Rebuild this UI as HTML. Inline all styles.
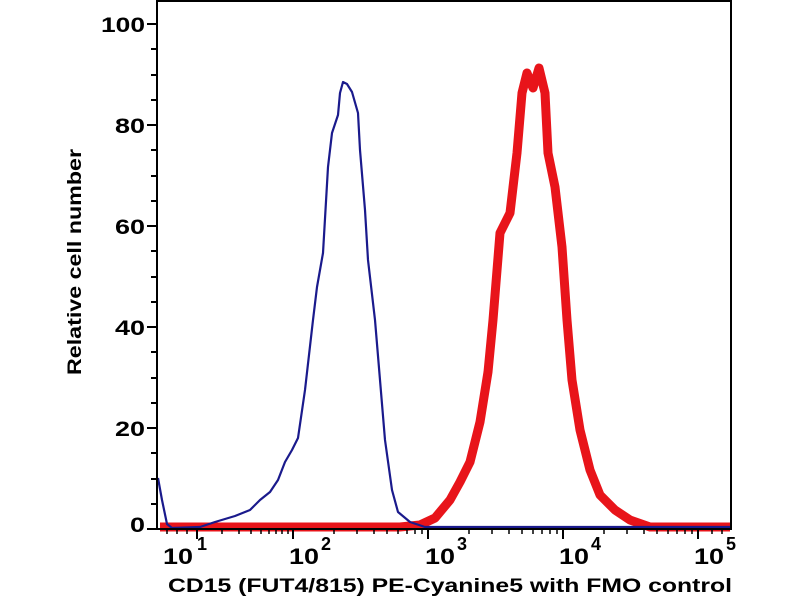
<!DOCTYPE html>
<html><head><style>body{margin:0;background:#fff}svg{display:block}</style></head><body>
<svg width="800" height="600" xmlns="http://www.w3.org/2000/svg" font-family="Liberation Sans, Arial, sans-serif" font-weight="bold">
<rect width="800" height="600" fill="#fff"/>
<polyline fill="none" stroke="#e8141a" stroke-width="9" stroke-linejoin="round" points="160,527 335,527 400,527 420,525 435,518 450,500 460,482 470,462 480,422 488,372 493,320 500,233 510,213 517,153 522,93 527,73 533,88 539,68 545,93 548,153 555,187 562,247 567,320 572,380 580,430 590,470 600,495 615,510 630,520 650,527 730,527"/>
<polyline fill="none" stroke="#1a1a8c" stroke-width="2.2" stroke-linejoin="round" points="158,478 162,500 167,524 172,528 200,527 215,522 235,516 250,510 260,500 270,492 278,480 285,462 292,450 298,438 305,390 313,320 317,287 323,253 328,167 332,133 338,115 340,93 343,82 347,84 352,92 358,113 360,150 365,210 368,260 375,320 380,380 385,440 392,490 398,512 410,522 425,527 730,527"/>
<g stroke="#000" stroke-width="2" fill="none">
<line x1="157" y1="0" x2="157" y2="530"/>
<line x1="156" y1="529" x2="732" y2="529"/>
<line x1="157" y1="1" x2="732" y2="1"/>
<line x1="731" y1="0" x2="731" y2="530"/>
</g>
<g stroke="#000" stroke-width="2">
<line x1="147" y1="24" x2="157" y2="24"/><line x1="147" y1="125" x2="157" y2="125"/><line x1="147" y1="226" x2="157" y2="226"/><line x1="147" y1="327" x2="157" y2="327"/><line x1="147" y1="428" x2="157" y2="428"/><line x1="147" y1="529" x2="157" y2="529"/>
<line x1="151" y1="49" x2="157" y2="49"/><line x1="151" y1="75" x2="157" y2="75"/><line x1="151" y1="100" x2="157" y2="100"/>
<line x1="151" y1="150" x2="157" y2="150"/><line x1="151" y1="176" x2="157" y2="176"/><line x1="151" y1="201" x2="157" y2="201"/>
<line x1="151" y1="251" x2="157" y2="251"/><line x1="151" y1="277" x2="157" y2="277"/><line x1="151" y1="302" x2="157" y2="302"/>
<line x1="151" y1="352" x2="157" y2="352"/><line x1="151" y1="378" x2="157" y2="378"/><line x1="151" y1="403" x2="157" y2="403"/>
<line x1="151" y1="453" x2="157" y2="453"/><line x1="151" y1="479" x2="157" y2="479"/><line x1="151" y1="504" x2="157" y2="504"/>
<line x1="197" y1="529" x2="197" y2="539"/><line x1="293" y1="529" x2="293" y2="539"/><line x1="428" y1="529" x2="428" y2="539"/><line x1="563" y1="529" x2="563" y2="539"/><line x1="698" y1="529" x2="698" y2="539"/>
</g>
<g stroke="#000" stroke-width="1.5">
<line x1="167" y1="529" x2="167" y2="534"/><line x1="177" y1="529" x2="177" y2="534"/><line x1="187" y1="529" x2="187" y2="534"/>
<line x1="222" y1="529" x2="222" y2="534"/><line x1="239" y1="529" x2="239" y2="534"/><line x1="251" y1="529" x2="251" y2="534"/><line x1="261" y1="529" x2="261" y2="534"/><line x1="269" y1="529" x2="269" y2="534"/><line x1="276" y1="529" x2="276" y2="534"/><line x1="282" y1="529" x2="282" y2="534"/><line x1="288" y1="529" x2="288" y2="534"/>
<line x1="334" y1="529" x2="334" y2="534"/><line x1="357" y1="529" x2="357" y2="534"/><line x1="374" y1="529" x2="374" y2="534"/><line x1="387" y1="529" x2="387" y2="534"/><line x1="398" y1="529" x2="398" y2="534"/><line x1="407" y1="529" x2="407" y2="534"/><line x1="415" y1="529" x2="415" y2="534"/><line x1="422" y1="529" x2="422" y2="534"/>
<line x1="469" y1="529" x2="469" y2="534"/><line x1="492" y1="529" x2="492" y2="534"/><line x1="509" y1="529" x2="509" y2="534"/><line x1="522" y1="529" x2="522" y2="534"/><line x1="533" y1="529" x2="533" y2="534"/><line x1="542" y1="529" x2="542" y2="534"/><line x1="550" y1="529" x2="550" y2="534"/><line x1="557" y1="529" x2="557" y2="534"/>
<line x1="604" y1="529" x2="604" y2="534"/><line x1="627" y1="529" x2="627" y2="534"/><line x1="644" y1="529" x2="644" y2="534"/><line x1="657" y1="529" x2="657" y2="534"/><line x1="668" y1="529" x2="668" y2="534"/><line x1="677" y1="529" x2="677" y2="534"/><line x1="685" y1="529" x2="685" y2="534"/><line x1="692" y1="529" x2="692" y2="534"/>
<line x1="712" y1="529" x2="712" y2="534"/><line x1="722" y1="529" x2="722" y2="534"/>
</g>
<g font-size="21" text-anchor="end" fill="#000">
<text x="145" y="32" textLength="44" lengthAdjust="spacingAndGlyphs">100</text><text x="145" y="133" textLength="30" lengthAdjust="spacingAndGlyphs">80</text><text x="145" y="234" textLength="30" lengthAdjust="spacingAndGlyphs">60</text><text x="145" y="335" textLength="30" lengthAdjust="spacingAndGlyphs">40</text><text x="145" y="436" textLength="30" lengthAdjust="spacingAndGlyphs">20</text><text x="145" y="532" textLength="15" lengthAdjust="spacingAndGlyphs">0</text>
</g>
<g font-size="22" fill="#000">
<text x="163" y="564" textLength="30" lengthAdjust="spacingAndGlyphs">10</text><text x="197" y="550" font-size="18">1</text>
<text x="289" y="564" textLength="30" lengthAdjust="spacingAndGlyphs">10</text><text x="321" y="550" font-size="18">2</text>
<text x="425" y="564" textLength="30" lengthAdjust="spacingAndGlyphs">10</text><text x="457" y="550" font-size="18">3</text>
<text x="559" y="564" textLength="30" lengthAdjust="spacingAndGlyphs">10</text><text x="591" y="550" font-size="18">4</text>
<text x="694" y="564" textLength="30" lengthAdjust="spacingAndGlyphs">10</text><text x="726" y="550" font-size="18">5</text>
</g>
<text x="168" y="592" font-size="19" textLength="564" lengthAdjust="spacingAndGlyphs" fill="#000">CD15 (FUT4/815) PE-Cyanine5 with FMO control</text>
<text transform="translate(81,262) rotate(-90)" font-size="19" text-anchor="middle" textLength="226" lengthAdjust="spacingAndGlyphs" fill="#000">Relative cell number</text>
</svg>
</body></html>
